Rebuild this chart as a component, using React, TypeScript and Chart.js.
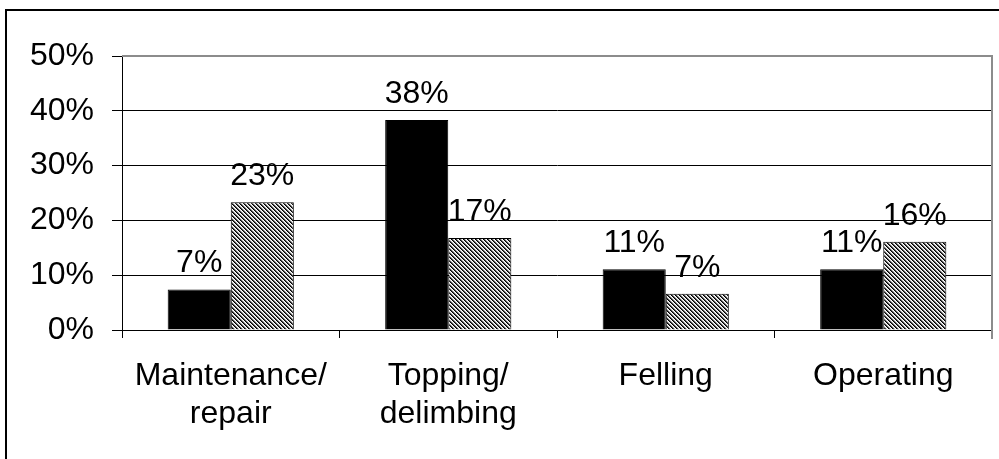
import React, { useEffect, useRef } from "react";
import { Chart, registerables } from "chart.js";

Chart.register(...registerables);

const categories: string[][] = [
  ["Maintenance/", "repair"],
  ["Topping/", "delimbing"],
  ["Felling"],
  ["Operating"],
];
const seriesSolid = [7.4, 38.3, 11.1, 11.1];
const seriesHatched = [23.3, 16.8, 6.6, 16.1];
const yTicks = [0, 10, 20, 30, 40, 50];

const FONT = "'Liberation Sans', Arial, sans-serif";

function makeHatch(): CanvasPattern | string {
  const c = document.createElement("canvas");
  c.width = 4;
  c.height = 4;
  const ctx = c.getContext("2d");
  if (!ctx) return "#808080";
  const shades = ["#000000", "#4a4a4a", "#d0d0d0", "#ffffff"];
  for (let y = 0; y < 4; y++) {
    for (let x = 0; x < 4; x++) {
      const d = (((x - y) % 4) + 4) % 4;
      ctx.fillStyle = shades[d];
      ctx.fillRect(x, y, 1, 1);
    }
  }
  return ctx.createPattern(c, "repeat") || "#808080";
}

const valueLabels = {
  id: "valueLabels",
  afterDatasetsDraw(chart: any) {
    const ctx = chart.ctx;
    ctx.save();
    ctx.font = `32px ${FONT}`;
    ctx.fillStyle = "#000";
    ctx.textAlign = "center";
    ctx.textBaseline = "alphabetic";
    chart.data.datasets.forEach((ds: any, i: number) => {
      const meta = chart.getDatasetMeta(i);
      meta.data.forEach((bar: any, j: number) => {
        const v = ds.data[j];
        ctx.fillText(Math.round(v) + "%", bar.x, bar.y - 17);
      });
    });
    ctx.restore();
  },
};

const frame = {
  id: "frame",
  afterDraw(chart: any) {
    const { ctx, chartArea } = chart;
    ctx.save();
    ctx.strokeStyle = "#8c8c8c";
    ctx.lineWidth = 2;
    ctx.beginPath();
    ctx.moveTo(chartArea.left, chartArea.top);
    ctx.lineTo(chartArea.right, chartArea.top);
    ctx.lineTo(chartArea.right, chartArea.bottom + 9);
    ctx.stroke();
    ctx.restore();
  },
};

export default function App() {
  const ref = useRef<HTMLCanvasElement | null>(null);

  useEffect(() => {
    if (!ref.current) return;
    const hatch = makeHatch();
    const chart = new Chart(ref.current, {
      type: "bar",
      data: {
        labels: categories as any,
        datasets: [
          {
            label: "Series 1",
            data: seriesSolid,
            backgroundColor: "#000000",
            borderColor: "#000000",
            borderWidth: 1,
            categoryPercentage: 0.58,
            barPercentage: 1.0,
          },
          {
            label: "Series 2",
            data: seriesHatched,
            backgroundColor: hatch as any,
            borderColor: "#000000",
            borderWidth: 1,
            categoryPercentage: 0.58,
            barPercentage: 1.0,
          },
        ],
      },
      options: {
        responsive: false,
        animation: false,
        layout: { padding: { top: 56, right: 7, left: 0, bottom: 0 } },
        plugins: {
          legend: { display: false },
          tooltip: { enabled: false },
        },
        scales: {
          x: {
            offset: true,
            grid: {
              offset: true,
              drawOnChartArea: false,
              drawTicks: true,
              tickLength: 8,
              color: "#000",
            },
            border: { display: true, color: "#000", width: 1 },
            ticks: {
              color: "#000",
              font: { family: FONT, size: 32, lineHeight: 1.2 },
              padding: 19,
              maxRotation: 0,
              autoSkip: false,
            },
            afterFit(scale: any) {
              scale.height = 129;
            },
          },
          y: {
            min: 0,
            max: 50,
            afterBuildTicks(scale: any) {
              scale.ticks = yTicks.map((v) => ({ value: v }));
            },
            grid: {
              color: "#000",
              lineWidth: 1,
              tickLength: 10,
              drawTicks: true,
            },
            border: { display: true, color: "#000", width: 1 },
            ticks: {
              color: "#000",
              font: { family: FONT, size: 32 },
              padding: 18,
              callback: (v: any) => v + "%",
            },
            afterFit(scale: any) {
              scale.width = 122;
            },
          },
        },
      },
      plugins: [valueLabels, frame],
    });
    return () => chart.destroy();
  }, []);

  return (
    <div
      style={{
        position: "fixed",
        left: 0,
        top: 0,
        width: 999,
        height: 459,
        background: "#fff",
        overflow: "hidden",
      }}
    >
      <div
        style={{
          position: "absolute",
          left: 5,
          top: 9,
          width: 1100,
          height: 600,
          borderTop: "2px solid #000",
          borderLeft: "2px solid #000",
        }}
      />
      <canvas
        ref={ref}
        width={999}
        height={459}
        style={{ position: "absolute", left: 0, top: 0, width: 999, height: 459 }}
      />
    </div>
  );
}
